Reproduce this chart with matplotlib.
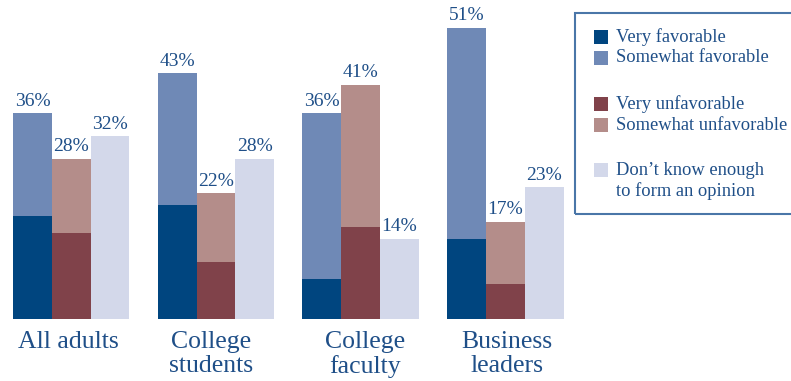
import matplotlib.pyplot as plt
from matplotlib.patches import Rectangle

groups = ["All adults", "College\nstudents", "College\nfaculty", "Business\nleaders"]

very_fav = [18, 20, 7, 14]
somewhat_fav = [18, 23, 29, 37]
very_unfav = [15, 10, 16, 6]
somewhat_unfav = [13, 12, 25, 11]
dont_know = [32, 28, 14, 23]

legend_labels = ["Very favorable", "Somewhat favorable",
                 "Very unfavorable", "Somewhat unfavorable",
                 "Don\u2019t know enough\nto form an opinion"]

c_vfav = "#00457f"
c_sfav = "#6f89b6"
c_vunf = "#80424a"
c_sunf = "#b48d8a"
c_dk = "#d3d8ea"
txt = "#1f4f88"

plt.rcParams["font.family"] = ["Liberation Serif", "DejaVu Serif"]

W, H = 791, 381
fig = plt.figure(figsize=(W / 100, H / 100), dpi=100)

base_px = 318.5
ax = fig.add_axes([0, (H - base_px) / H, 1, base_px / H])
ax.set_ylim(0, base_px / 5.7)
step = 144.7
ax.set_xlim(-71.2 / step, (W - 71.2) / step)
ax.axis("off")

bw = 38.8 / step
label_shift = [-0.02, -0.03, 0.03, 0.01]
for i in range(len(groups)):
    fav = very_fav[i] + somewhat_fav[i]
    unf = very_unfav[i] + somewhat_unfav[i]
    x0, x1, x2 = i - bw, i, i + bw
    ax.bar(x0, very_fav[i], bw, color=c_vfav, linewidth=0)
    ax.bar(x0, somewhat_fav[i], bw, bottom=very_fav[i], color=c_sfav, linewidth=0)
    ax.bar(x1, very_unfav[i], bw, color=c_vunf, linewidth=0)
    ax.bar(x1, somewhat_unfav[i], bw, bottom=very_unfav[i], color=c_sunf, linewidth=0)
    ax.bar(x2, dont_know[i], bw, color=c_dk, linewidth=0)
    for x, v in [(x0, fav), (x1, unf), (x2, dont_know[i])]:
        ax.text(x, v + 0.6, f"{v}%", ha="center", va="bottom",
                fontsize=14, color=txt)
    ax.text(i + label_shift[i], -2.2, groups[i], ha="center", va="top",
            fontsize=18.5, color=txt, linespacing=1.12, clip_on=False)

# legend box, running off the right edge
def fx(x):
    return x / W

def fy(y):
    return 1 - y / H

fig.patches.append(Rectangle((fx(575), fy(214)), fx(240), (214 - 13) / H,
                             transform=fig.transFigure, fill=False,
                             edgecolor="#4a76a8", linewidth=1.5))
colors = [c_vfav, c_sfav, c_vunf, c_sunf, c_dk]
rows = [37, 58, 104, 125, 181]
for col, lab, y in zip(colors, legend_labels, rows):
    sq_y = y if "\n" not in lab else 170
    fig.patches.append(Rectangle((fx(594), fy(sq_y + 7)), fx(14), 14 / H,
                                 transform=fig.transFigure, color=col,
                                 linewidth=0))
    fig.text(fx(616), fy(y), lab, ha="left", va="center",
             fontsize=13.3, color=txt, linespacing=1.2)

fig.savefig("out.png", dpi=100)
